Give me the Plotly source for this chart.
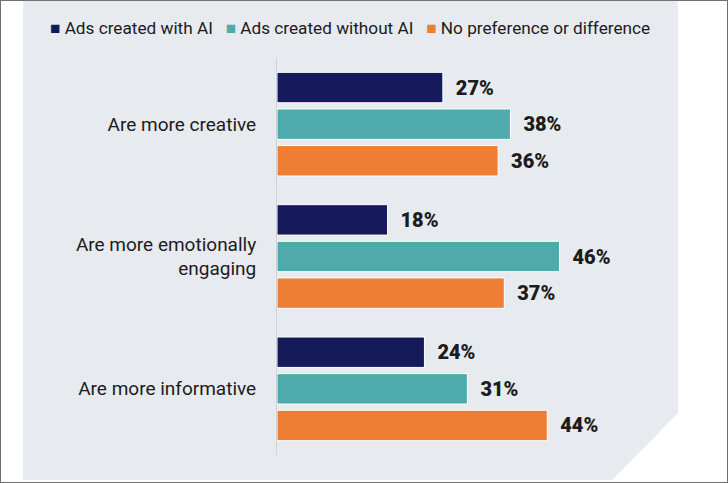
import plotly.graph_objects as go

W, H = 728, 483

categories = ["Are more creative", "Are more emotionally<br>engaging", "Are more informative"]
series_names = ["Ads created with AI", "Ads created without AI", "No preference or difference"]
with_ai = [27, 18, 24]
without_ai = [38, 46, 31]
no_pref = [36, 37, 44]
colors = ["#141a5a", "#4fabab", "#ef7e35"]


def px(x):
    return x / W


def py(y):
    return 1 - y / H


fig = go.Figure()
for name, vals, col in zip(series_names, [with_ai, without_ai, no_pref], colors):
    fig.add_trace(
        go.Bar(
            name=name,
            y=categories,
            x=vals,
            orientation="h",
            marker=dict(color=col, line=dict(color="#ffffff", width=1)),
            texttemplate="&nbsp;&nbsp;%{x}%",
            textposition="outside",
            textfont=dict(family="Roboto", size=20, color="#1c1c1c", weight=900),
            cliponaxis=False,
            showlegend=False,
        )
    )

# legend drawn as one text line: coloured square + series name
legend_text = "&nbsp;&nbsp;&nbsp;".join(
    f"<span style='color:{c}'>■</span>&nbsp;{n}" for n, c in zip(series_names, colors)
)
fig.add_annotation(
    text=legend_text,
    xref="paper",
    yref="paper",
    x=px(48),
    y=py(28),
    xanchor="left",
    yanchor="middle",
    showarrow=False,
    font=dict(family="Roboto", size=17.2, color="#1c1c1c"),
)

# light panel with cut corner + outer frame
fig.add_shape(
    type="path",
    xref="paper",
    yref="paper",
    path=f"M {px(23)},{py(0)} L {px(678)},{py(0)} L {px(678)},{py(413)} L {px(612)},{py(480)} L {px(23)},{py(480)} Z",
    fillcolor="#e7eaef",
    line=dict(width=0),
    layer="below",
)
fig.add_shape(
    type="rect",
    xref="paper",
    yref="paper",
    x0=0,
    x1=1,
    y0=0,
    y1=1,
    line=dict(color="#707070", width=2),
    layer="above",
)

fig.update_layout(
    width=W,
    height=H,
    margin=dict(l=0, r=0, t=0, b=0),
    paper_bgcolor="#ffffff",
    plot_bgcolor="rgba(0,0,0,0)",
    barmode="group",
    bargap=0.17,
    bargroupgap=0.17,
    font=dict(family="Roboto", color="#1c1c1c"),
    showlegend=False,
    xaxis=dict(
        domain=[px(277), px(707)],
        range=[0, 70],
        visible=False,
    ),
    yaxis=dict(
        domain=[py(455), py(58)],
        autorange="reversed",
        showline=True,
        linecolor="#cfd2d8",
        linewidth=1,
        showgrid=False,
        ticks="",
        ticklabelstandoff=16,
        tickfont=dict(size=19, color="#1c1c1c"),
    ),
)

fig.write_html(
    "out.html",
    config={"displayModeBar": False},
    post_script="document.body.style.margin='0';",
)
